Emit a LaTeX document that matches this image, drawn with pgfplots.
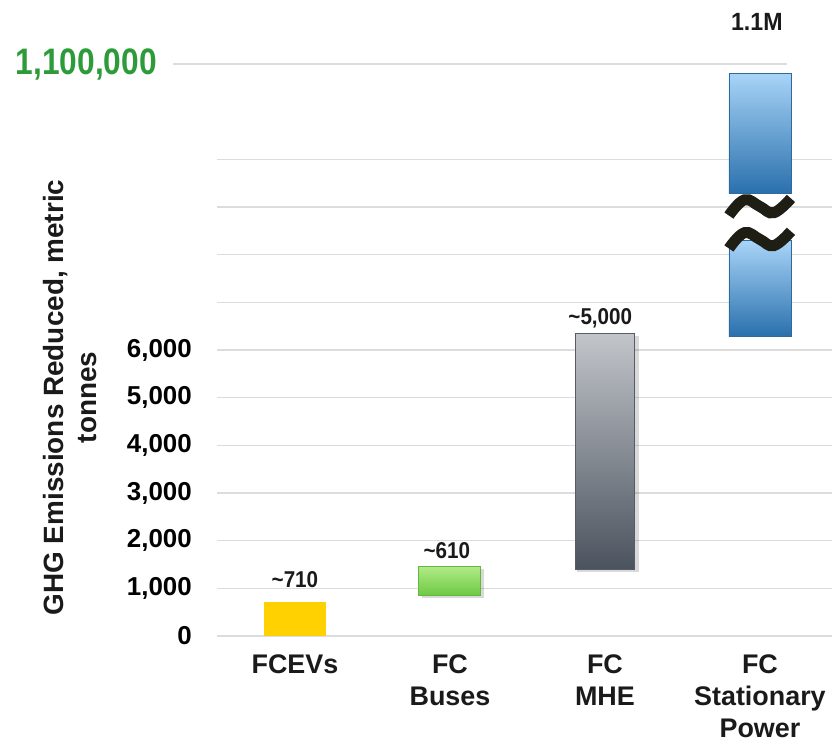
\documentclass[border=0pt]{standalone}
\usepackage{fontspec}
\setmainfont{Liberation Sans}
\usepackage{pgfplots}
\pgfplotsset{compat=1.18}
\definecolor{gridc}{HTML}{DCDCDC}
\definecolor{txt}{HTML}{1A1A1A}
\definecolor{ghggreen}{HTML}{2E9B3A}
\definecolor{ycol}{HTML}{FFD100}
\definecolor{gtop}{HTML}{B0EA86}
\definecolor{gbot}{HTML}{6CC842}
\definecolor{gedge}{HTML}{64B83C}
\definecolor{mtop}{HTML}{C2C5CA}
\definecolor{mbot}{HTML}{4B535E}
\definecolor{medge}{HTML}{555C66}
\definecolor{btop}{HTML}{A8D4F7}
\definecolor{bbot}{HTML}{2A70AD}
\definecolor{bedge}{HTML}{2F6A9C}
\definecolor{wave}{HTML}{1E1E14}
\begin{document}
\begin{tikzpicture}
\begin{axis}[
  scale only axis, width=615bp, height=572bp,
  xmin=-0.503, xmax=3.465, ymin=0, ymax=12000,
  axis line style={draw=none}, major tick length=0pt,
  clip=false, scaled y ticks=false,
  ytick={0,1000,...,10000},
  yticklabels={0,{1,000},{2,000},{3,000},{4,000},{5,000},{6,000},,,,},
  ymajorgrids, grid style={gridc, line width=1.5bp},
  yticklabel style={anchor=east, inner sep=0pt, xshift=-25bp, font=\bfseries\fontsize{26}{30}\selectfont, text=black},
  extra y ticks={12000},
  extra y tick labels={\scalebox{0.86}[1]{1,100,000}},
  extra y tick style={grid=none, yticklabel style={text=ghggreen, font=\bfseries\fontsize{37}{40}\selectfont, xshift=-35bp}},
  xtick={0,1,2,3},
  xticklabels={FCEVs,{FC\\Buses},{FC\\MHE},{FC\\Stationary\\Power}},
  xticklabel style={align=center, anchor=north, inner sep=0pt, yshift=-19bp, font=\bfseries\fontsize{27}{32}\selectfont, text=txt},
  every axis y label/.style={at={(axis description cs:-0.239,0.417)}, rotate=90, anchor=center, align=center, font=\bfseries\fontsize{28}{34}\selectfont, text=txt},
  ylabel={GHG Emissions Reduced, metric\\tonnes},
]
\draw[gridc, line width=1.5bp] (axis cs:-0.787,12000) -- (axis cs:3.174,12000);
% shadows
\addplot[fill=black, fill opacity=0.15, draw=none] coordinates {(0.82,790) (1.22,790) (1.22,1400) (0.82,1400)} -- cycle;
\addplot[fill=black, fill opacity=0.15, draw=none] coordinates {(1.82,1350) (2.22,1350) (2.22,6300) (1.82,6300)} -- cycle;
% bars
\addplot[fill=ycol, draw=none] coordinates {(-0.2,0) (0.2,0) (0.2,710) (-0.2,710)} -- cycle;
\addplot[top color=gtop, bottom color=gbot, draw=gedge, line width=1bp] coordinates {(0.8,840) (1.2,840) (1.2,1450) (0.8,1450)} -- cycle;
\addplot[top color=mtop, bottom color=mbot, draw=medge, line width=1.2bp] coordinates {(1.81,1400) (2.19,1400) (2.19,6350) (1.81,6350)} -- cycle;
\addplot[top color=btop, bottom color=bbot, draw=bedge, line width=0.8bp] coordinates {(2.8,9290) (3.2,9290) (3.2,11810) (2.8,11810)} -- cycle;
\addplot[top color=btop, bottom color=bbot, draw=bedge, line width=0.8bp] coordinates {(2.8,6290) (3.2,6290) (3.2,8290) (2.8,8290)} -- cycle;
% break symbol
\draw[wave, line width=11bp] plot[smooth, tension=0.7] coordinates {(axis cs:2.80,8820) (axis cs:2.90,9150) (axis cs:3.0,9010) (axis cs:3.09,8880) (axis cs:3.2,9180)};
\draw[wave, line width=11bp] plot[smooth, tension=0.7] coordinates {(axis cs:2.80,8130) (axis cs:2.90,8460) (axis cs:3.0,8320) (axis cs:3.09,8190) (axis cs:3.2,8490)};
% labels
\node[text=txt, font=\bfseries\fontsize{23}{26}\selectfont] at (axis cs:0,1175) {\scalebox{0.9}[1]{\textasciitilde 710}};
\node[text=txt, font=\bfseries\fontsize{23}{26}\selectfont] at (axis cs:0.98,1783) {\scalebox{0.9}[1]{\textasciitilde 610}};
\node[text=txt, font=\bfseries\fontsize{23}{26}\selectfont] at (axis cs:1.97,6670) {\scalebox{0.9}[1]{\textasciitilde 5,000}};
\node[text=txt, font=\bfseries\fontsize{25}{28}\selectfont] at (axis cs:2.98,12880) {\scalebox{0.93}[1]{1.1M}};
\end{axis}
\pgfresetboundingbox
\path (-217bp,-108bp) rectangle (615bp,636bp);
\end{tikzpicture}
\end{document}
